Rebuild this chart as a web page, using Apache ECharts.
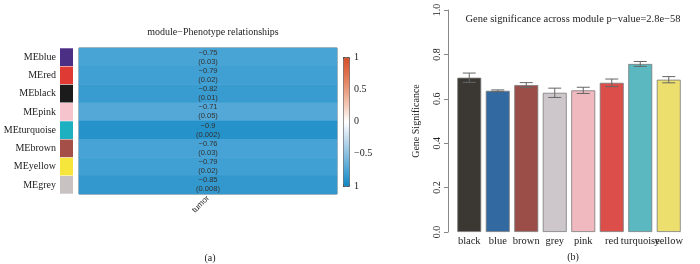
<!DOCTYPE html>
<html>
<head>
<meta charset="utf-8">
<script src="https://cdn.jsdelivr.net/npm/echarts@6/dist/echarts.min.js"></script>
<style>
  html, body { margin: 0; padding: 0; background: #fff; }
  #chart { width: 700px; height: 264px; }
</style>
</head>
<body>
<div id="chart"></div>
<script>
// left panel: module-trait heatmap
const modules = ['MEblue', 'MEred', 'MEblack', 'MEpink', 'MEturquoise', 'MEbrown', 'MEyellow', 'MEgrey'];
const moduleColors = ['#4b2f85', '#e03a35', '#1b1b1b', '#f6c4cc', '#1cb0c0', '#a54f49', '#f6e63c', '#c8c2c3'];
const traits = ['tumor'];
const corr = [-0.75, -0.79, -0.82, -0.71, -0.9, -0.76, -0.79, -0.85];
const pvals = ['0.03', '0.02', '0.01', '0.05', '0.002', '0.03', '0.02', '0.008'];

// right panel: gene significance per module
const gsModules = ['black', 'blue', 'brown', 'grey', 'pink', 'red', 'turquoise', 'yellow'];
const gsMean = [0.695, 0.636, 0.662, 0.627, 0.638, 0.672, 0.757, 0.686];
const gsErr = [0.021, 0.004, 0.011, 0.021, 0.014, 0.017, 0.011, 0.014];
const gsColors = ['#3b3833', '#3369a1', '#9b4d48', '#cdc7cc', '#f0b9c0', '#db4e49', '#5bb8c0', '#eddf6e'];

const serif = '"Liberation Serif", "DejaVu Serif", serif';
const txt = { fontFamily: serif, fontSize: 10, fontWeight: 'normal', color: '#222' };

const heatData = [];
for (let i = 0; i < modules.length; i++) {
    heatData.push([0, i, corr[i]]);
}

const chart = echarts.init(document.getElementById('chart'));
chart.setOption({
    animation: false,
    title: [
        { text: 'module\u2212Phenotype relationships', left: 208, top: 22, textAlign: 'center', textStyle: txt },
        { text: '(a)', left: 205, top: 248, textAlign: 'center', textStyle: txt },
        { text: 'Gene significance across module p\u2212value=2.8e\u221258', left: 568, top: 9, textAlign: 'center',
          textStyle: Object.assign({}, txt, { fontSize: 10.5 }) },
        { text: '(b)', left: 568, top: 247, textAlign: 'center', textStyle: txt }
    ],
    grid: [
        // color squares
        { left: 60, top: 48, width: 13, height: 146 },
        // heatmap
        { left: 79, top: 48, width: 258, height: 146, show: true, borderColor: '#777', borderWidth: 1 },
        // colour scale axis
        { left: 343, top: 57, width: 6, height: 129 },
        // bar chart
        { left: 455, right: 17, top: 10, bottom: 32 }
    ],
    xAxis: [
        { gridIndex: 0, type: 'value', min: 0, max: 1, show: false },
        { gridIndex: 1, type: 'category', data: traits,
          axisLine: { show: false }, axisTick: { show: false },
          axisLabel: { rotate: 45, margin: 3, fontSize: 8, fontFamily: '"Liberation Sans", sans-serif', color: '#222',
                       padding: [0, 0, 0, 0] } },
        { gridIndex: 2, type: 'value', min: 0, max: 1, show: false },
        { gridIndex: 3, type: 'category', data: gsModules,
          axisLine: { show: false }, axisTick: { show: false },
          axisLabel: { interval: 0, margin: 4, fontSize: 10.5, fontFamily: serif, color: '#222' } }
    ],
    yAxis: [
        { gridIndex: 0, type: 'category', data: modules, inverse: true,
          axisLine: { show: false }, axisTick: { show: false },
          axisLabel: { margin: 4, fontSize: 10, fontFamily: serif, color: '#222' } },
        { gridIndex: 1, type: 'category', data: modules, inverse: true, show: false },
        { gridIndex: 2, type: 'value', min: -1, max: 1, interval: 0.5, position: 'right',
          axisLine: { show: false }, splitLine: { show: false },
          axisTick: { show: true, length: 4, lineStyle: { color: '#444' } },
          axisLabel: { margin: 5, fontSize: 10, fontFamily: serif, color: '#222',
                       formatter: v => v === -1 ? '1' : String(v).replace('-', '\u2212') } },
        { gridIndex: 3, type: 'value', min: 0, max: 1, interval: 0.2, offset: 7,
          name: 'Gene Significance', nameLocation: 'middle', nameGap: 27, nameRotate: 90,
          nameTextStyle: { fontFamily: serif, fontSize: 10, color: '#222' },
          axisLine: { show: true, lineStyle: { color: '#888' } },
          axisTick: { show: true, length: 4, lineStyle: { color: '#888' } },
          splitLine: { show: false },
          axisLabel: { rotate: 90, margin: 6, fontSize: 10, fontFamily: serif, color: '#222',
                       formatter: v => v.toFixed(1) } }
    ],
    visualMap: {
        type: 'continuous', min: -1, max: 1, seriesIndex: 1,
        left: 343, top: 57, itemWidth: 6, itemHeight: 129, padding: 0,
        borderColor: '#555', borderWidth: 1,
        calculable: false, text: ['', ''], showLabel: false,
        inRange: { color: ['#0f86c2', '#49a4d6', '#88bfe0', '#c6ddee', '#ffffff', '#f4cbb9', '#ea9c7d', '#e0714a', '#d4502a'] }
    },
    series: [
        {
            type: 'bar', xAxisIndex: 0, yAxisIndex: 0,
            data: moduleColors.map(c => ({ value: 1, itemStyle: { color: c } })),
            barCategoryGap: '3%', silent: true
        },
        {
            type: 'heatmap', xAxisIndex: 1, yAxisIndex: 1,
            data: heatData,
            label: {
                show: true, fontSize: 7.5, lineHeight: 9, color: '#333',
                fontFamily: '"Liberation Sans", sans-serif',
                formatter: p => String(corr[p.data[1]]).replace('-', '\u2212') + '\n(' + pvals[p.data[1]] + ')'
            }
        },
        {
            type: 'bar', xAxisIndex: 3, yAxisIndex: 3,
            data: gsMean.map((v, i) => ({ value: v, itemStyle: { color: gsColors[i] } })),
            barCategoryGap: '16%',
            itemStyle: { borderColor: '#7a7a7a', borderWidth: 0.8 }
        },
        {
            type: 'custom', xAxisIndex: 3, yAxisIndex: 3,
            data: gsMean.map((v, i) => [i, v - gsErr[i], v + gsErr[i]]),
            renderItem: (params, api) => {
                const lo = api.coord([api.value(0), api.value(1)]);
                const hi = api.coord([api.value(0), api.value(2)]);
                const hw = 6.5;
                const style = { stroke: '#666', lineWidth: 1 };
                return {
                    type: 'group',
                    children: [
                        { type: 'line', shape: { x1: hi[0], y1: hi[1], x2: lo[0], y2: lo[1] }, style },
                        { type: 'line', shape: { x1: hi[0] - hw, y1: hi[1], x2: hi[0] + hw, y2: hi[1] }, style },
                        { type: 'line', shape: { x1: lo[0] - hw, y1: lo[1], x2: lo[0] + hw, y2: lo[1] }, style }
                    ]
                };
            },
            z: 5
        }
    ]
});
</script>
</body>
</html>
